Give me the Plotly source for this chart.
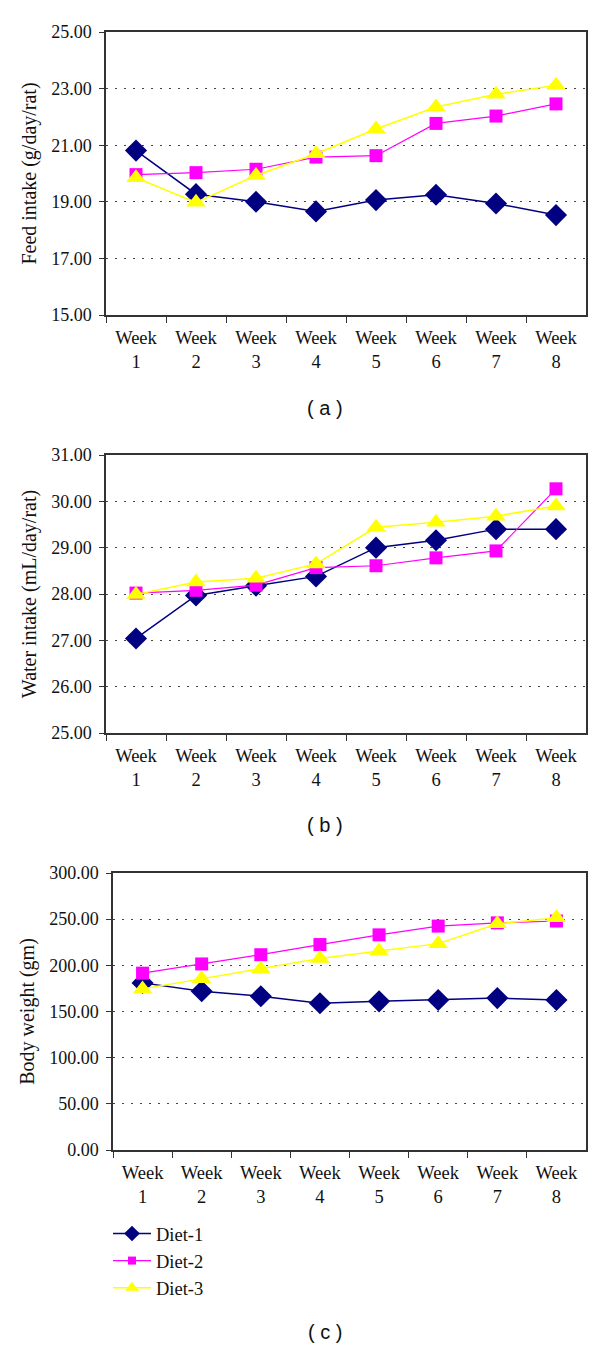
"""Feed intake, water intake and body weight of rats over 8 weeks, three diets."""

import plotly.graph_objects as go

weeks = [f"Week<br>{i}" for i in range(1, 9)]
diet_names = ["Diet-1", "Diet-2", "Diet-3"]

# (a) feed intake, g/day/rat
feed_diet1 = [20.81, 19.27, 19.00, 18.66, 19.06, 19.25, 18.94, 18.53]
feed_diet2 = [19.96, 20.03, 20.15, 20.58, 20.63, 21.77, 22.03, 22.46]
feed_diet3 = [19.85, 18.98, 19.93, 20.70, 21.57, 22.35, 22.80, 23.12]

# (b) water intake, mL/day/rat
water_diet1 = [27.04, 27.97, 28.18, 28.38, 29.00, 29.16, 29.40, 29.40]
water_diet2 = [28.02, 28.08, 28.19, 28.57, 28.61, 28.78, 28.93, 30.27]
water_diet3 = [27.99, 28.26, 28.34, 28.65, 29.44, 29.55, 29.68, 29.90]

# (c) body weight, gm
weight_diet1 = [181.0, 172.0, 166.5, 159.0, 161.0, 162.5, 164.5, 162.5]
weight_diet2 = [191.5, 201.5, 211.5, 222.5, 233.0, 242.5, 246.0, 248.0]
weight_diet3 = [174.5, 185.5, 196.0, 207.5, 215.5, 223.5, 245.0, 251.5]

_STYLE = [
    dict(color="#000080", symbol="diamond", size=17, lw=1.5),
    dict(color="#ff00ff", symbol="square", size=13, lw=1.2),
    dict(color="#ffff00", symbol="triangle-up", size=17, lw=1.5),
]

SERIF = "Liberation Serif, Times New Roman, serif"
SANS = "Liberation Sans, Arial, sans-serif"

# page body adds an 8px margin, so the figure is 8px smaller than the window
PAD = 8
W, H = 600 - PAD, 1346 - PAD


def px_x(x):
    return (x - PAD) / W


def px_y(y):
    return 1 - (y - PAD) / H


panels = [
    # data, y title, range, dtick, x px (left,right), y px (top,bottom), label y px
    ([feed_diet1, feed_diet2, feed_diet3], "Feed intake (g/day/rat)",
     [15, 25], 2, (106, 586), (32, 315), 408, "( a )"),
    ([water_diet1, water_diet2, water_diet3], "Water intake (mL/day/rat)",
     [25, 31], 1, (106, 586), (455, 733), 825, "( b )"),
    ([weight_diet1, weight_diet2, weight_diet3], "Body weight (gm)",
     [0, 300], 50, (113, 586), (873, 1150), 1332, "( c )"),
]

fig = go.Figure()
layout = {}
for k, (series, ytitle, yr, dt, (xl, xr), (yt, yb), lab_y, lab) in enumerate(panels):
    n = "" if k == 0 else str(k + 1)
    for j, vals in enumerate(series):
        s = _STYLE[j]
        fig.add_trace(go.Scatter(
            x=weeks, y=vals, mode="lines+markers", name=diet_names[j],
            xaxis="x" + n, yaxis="y" + n, showlegend=False,
            line=dict(color=s["color"], width=s["lw"]),
            marker=dict(color=s["color"], symbol=s["symbol"], size=s["size"],
                        line=dict(width=0))))
    layout["xaxis" + n] = dict(
        domain=[px_x(xl), px_x(xr)], anchor="y" + n, type="category",
        range=[-0.5, 7.5], showline=True, linecolor="#333", linewidth=1.5,
        mirror=True, ticks="outside", tickson="boundaries", ticklen=6,
        tickcolor="#333", showgrid=False, automargin=False,
        ticklabelstandoff=5,
        tickfont=dict(family=SERIF, size=18.5, color="#111"))
    layout["yaxis" + n] = dict(
        domain=[px_y(yb), px_y(yt)], anchor="x" + n, range=yr, dtick=dt,
        tick0=yr[0], tickformat=".2f", showline=True, linecolor="#333",
        linewidth=1.5, mirror=True, ticks="outside", ticklen=5,
        tickcolor="#333", showgrid=True, gridcolor="#444",
        griddash="2px,7px", gridwidth=1, zeroline=False, automargin=False,
        ticklabelstandoff=4,
        tickfont=dict(family=SERIF, size=18, color="#111"),
        title=dict(text=ytitle, font=dict(family=SERIF, size=20, color="#111"),
                   standoff=9))
    fig.add_annotation(text=lab, x=px_x(325), y=px_y(lab_y), xref="paper",
                       yref="paper", showarrow=False, yanchor="middle",
                       font=dict(family=SANS, size=20, color="#111"))

# legend-only entries (smaller symbols than the plotted markers)
for j, name in enumerate(diet_names):
    s = _STYLE[j]
    fig.add_trace(go.Scatter(
        x=[None], y=[None], mode="lines+markers", name=name,
        xaxis="x3", yaxis="y3",
        line=dict(color=s["color"], width=s["lw"]),
        marker=dict(color=s["color"], symbol=s["symbol"],
                    size=s["size"] - 5, line=dict(width=0))))

fig.update_layout(
    width=W, height=H, margin=dict(l=0, r=0, t=0, b=0),
    plot_bgcolor="white", paper_bgcolor="white",
    legend=dict(x=px_x(108), y=px_y(1215), xanchor="left", yanchor="top",
                font=dict(family=SERIF, size=18.5, color="#111"),
                itemwidth=38, tracegroupgap=0, bgcolor="rgba(0,0,0,0)"),
    **layout)

fig.write_html("out.html")
